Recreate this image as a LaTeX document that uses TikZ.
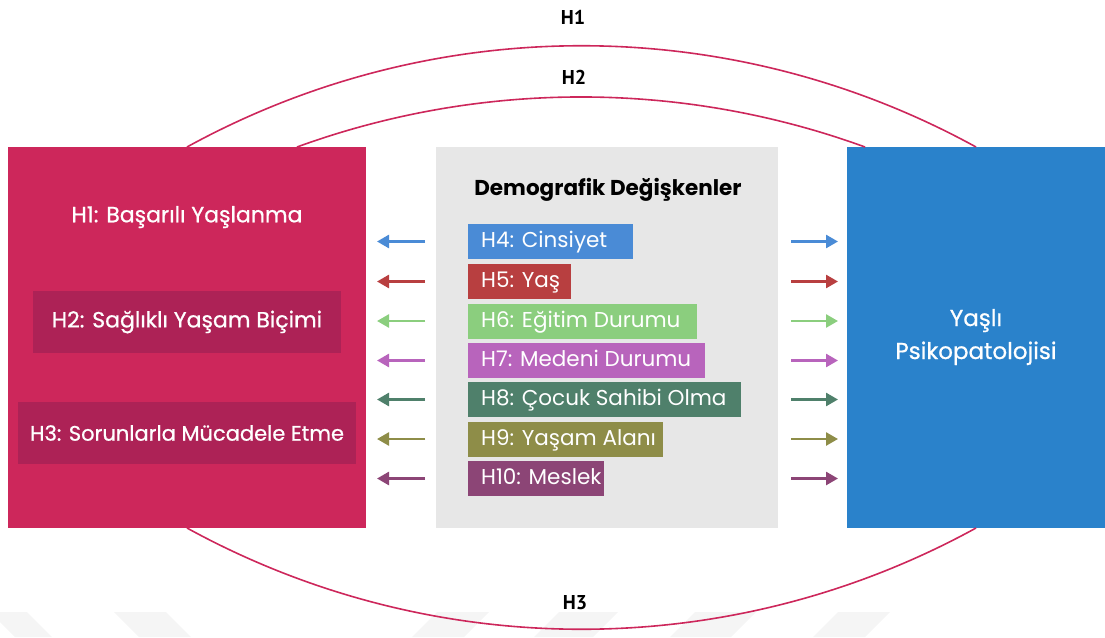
\documentclass[tikz,border=0pt]{standalone}
\usepackage{fontspec}
\setmainfont{Poppins}
\newfontfamily\medfont{Poppins}[FakeBold=0.7]
\newfontfamily\labfont{PT Sans}
\usetikzlibrary{arrows.meta}
\definecolor{crim}{HTML}{CD275B}
\definecolor{crimdark}{HTML}{AD2256}
\definecolor{panel}{HTML}{E7E7E7}
\definecolor{rblue}{HTML}{2A82CB}
\definecolor{cfour}{HTML}{4A8BD6}
\definecolor{cfive}{HTML}{B83F40}
\definecolor{csix}{HTML}{8BCE7E}
\definecolor{cseven}{HTML}{B864BC}
\definecolor{ceight}{HTML}{4F806B}
\definecolor{cnine}{HTML}{8E8D48}
\definecolor{cten}{HTML}{8C4576}
\definecolor{wmark}{HTML}{F5F5F5}
\tikzset{
  bigbox/.style={rectangle, inner sep=0pt, anchor=north west},
  subbox/.style={rectangle, fill=crimdark, inner sep=0pt, minimum height=62pt, text=white, font=\medfont\fontsize{22}{26}\selectfont},
  boxtext/.style={text=white, inner sep=0pt, font=\medfont\fontsize{22}{26}\selectfont},
  item/.style={rectangle, anchor=west, inner sep=0pt, minimum height=35pt},
  itemtext/.style={anchor=west, inner sep=0pt, text=white, font=\fontsize{21.5}{26}\selectfont},
  harrow/.style={line width=2.6pt, -{Triangle[length=12pt,width=13pt]}},
  arcline/.style={draw=crim, line width=1.6pt},
  hlabel/.style={inner sep=0pt, font=\labfont\bfseries\fontsize{20}{24}\selectfont}
}
\begin{document}
\begin{tikzpicture}[x=1pt,y=-1pt]
\useasboundingbox (0,0) rectangle (1105,637);
% watermark stripes
\fill[wmark] (-10,612) -- (27,612) -- (52,637) -- (15,637) -- cycle;
\fill[wmark] (114,612) -- (166,612) -- (191,637) -- (139,637) -- cycle;
\fill[wmark] (437,612) -- (489,612) -- (464,637) -- (412,637) -- cycle;
\fill[wmark] (559,612) -- (618,612) -- (593,637) -- (534,637) -- cycle;
\fill[wmark] (695,612) -- (756,612) -- (731,637) -- (670,637) -- cycle;
\fill[wmark] (838,612) -- (890,612) -- (865,637) -- (813,637) -- cycle;

% main boxes
\node[bigbox, fill=crim, minimum width=358pt, minimum height=381pt] (L) at (8,147) {};
\node[bigbox, fill=panel, minimum width=342pt, minimum height=381pt] (C) at (436,147) {};
\node[bigbox, fill=rblue, minimum width=258pt, minimum height=381pt] (R) at (847,147) {};

% left box contents
\node[boxtext] (t1) at (187,217) {H1: Başarılı Yaşlanma};
\node[subbox, minimum width=308pt] (t2) at (187,322) {H2: Sağlıklı Yaşam Biçimi};
\node[subbox, minimum width=338pt, font=\medfont\fontsize{21}{26}\selectfont] (t3) at (187,433) {H3: Sorunlarla Mücadele Etme};

% right box text
\node[boxtext, align=center, font=\medfont\fontsize{23}{33}\selectfont] (rt) at (976,337) {Yaşlı\\Psikopatolojisi};

% center panel
\node[inner sep=0pt, font=\bfseries\fontsize{21.5}{26}\selectfont] (title) at (608,190) {Demografik Değişkenler};
\foreach \n/\y/\w/\c/\t in {4/241.5/165/cfour/{H4: Cinsiyet},
                            5/281.5/103/cfive/{H5: Yaş},
                            6/321/229/csix/{H6: Eğitim Durumu},
                            7/360.5/237/cseven/{H7: Medeni Durumu},
                            8/399.5/273/ceight/{H8: Çocuk Sahibi Olma},
                            9/439/195/cnine/{H9: Yaşam Alanı},
                            10/478.5/136/cten/{H10: Meslek}}{
  \node[item, fill=\c, minimum width=\w pt] (i\n) at (468,\y) {};
  \node[itemtext] (it\n) at ([xshift=13pt,yshift=-1pt]i\n.west) {\strut\t};
  \coordinate (ls\n) at (425,\y);
  \coordinate (le\n) at (377,\y);
  \coordinate (rs\n) at (791,\y);
  \coordinate (re\n) at (838,\y);
  \draw[harrow, draw=\c, fill=\c] (ls\n) -- (le\n);
  \draw[harrow, draw=\c, fill=\c] (rs\n) -- (re\n);
}

% arcs
\coordinate (a1) at (187,147);
\coordinate (b1) at (976,147);
\coordinate (a2) at (297,147);
\coordinate (b2) at (865,147);
\coordinate (a3) at (187,528);
\coordinate (b3) at (976,528);
\draw[arcline] (a1) .. controls +(246,-135) and +(-246,-135) .. (b1);
\draw[arcline] (a2) .. controls +(183.4,-66.7) and +(-183.4,-66.7) .. (b2);
\draw[arcline] (a3) .. controls +(246,135) and +(-246,135) .. (b3);

\node[hlabel] (h1) at (573,17) {H1};
\node[hlabel] (h2) at (574,77) {H2};
\node[hlabel] (h3) at (575,603) {H3};
\end{tikzpicture}
\end{document}
